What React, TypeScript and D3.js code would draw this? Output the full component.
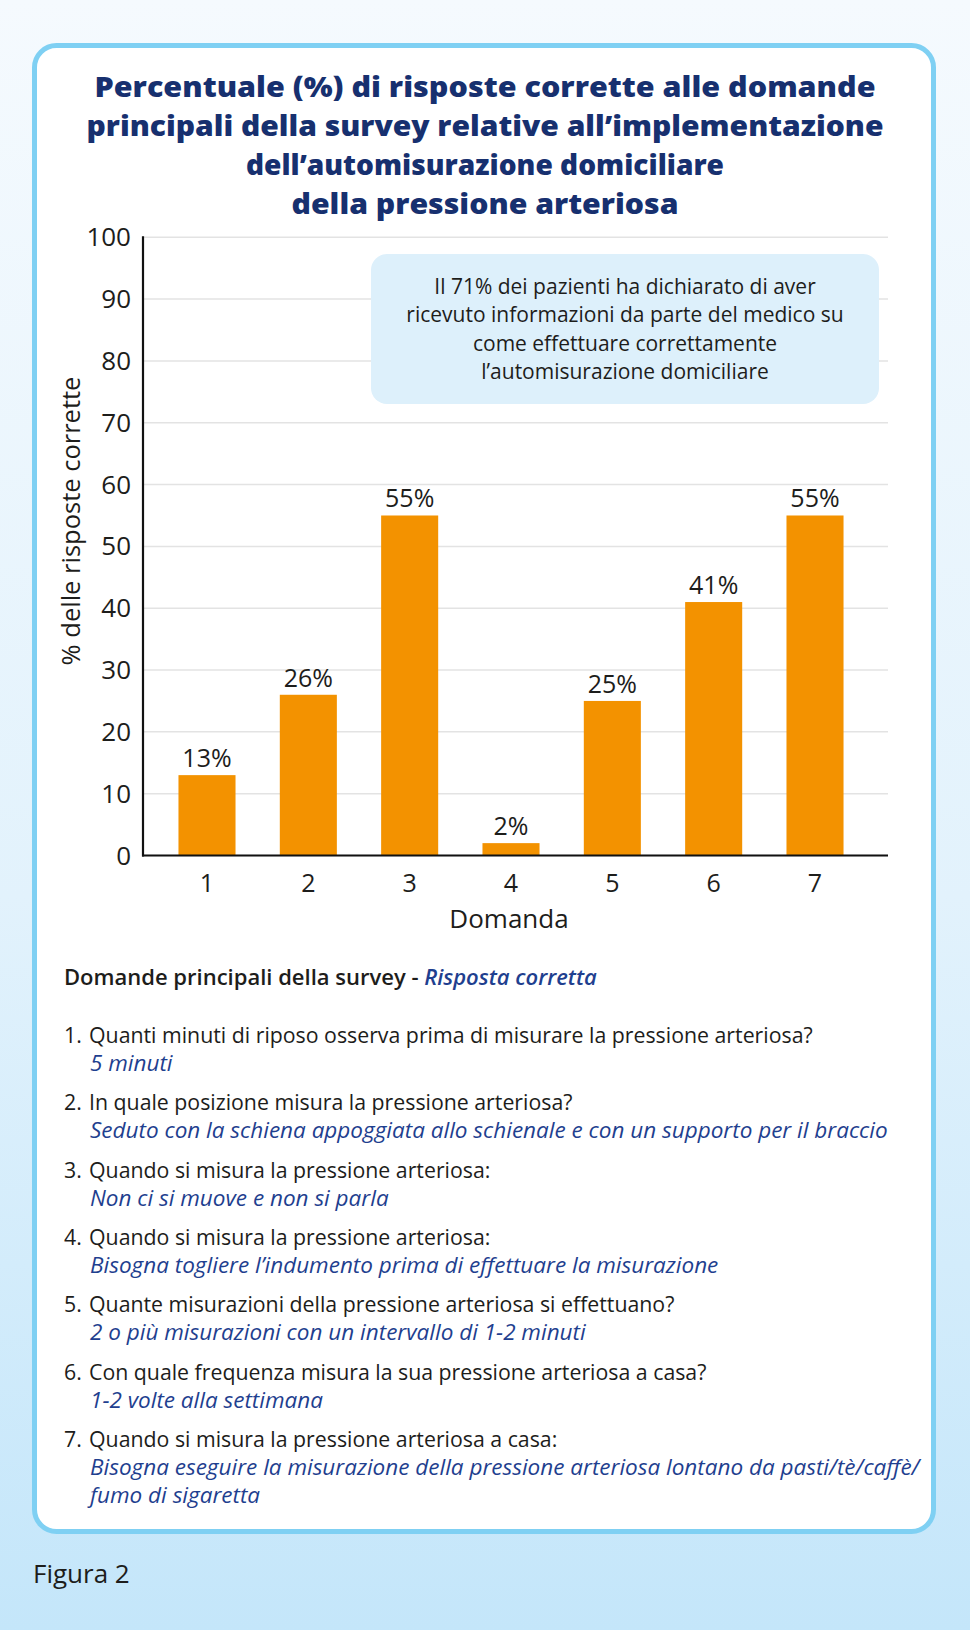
import React from 'react';
import * as d3 from 'd3';

const questions = ['1', '2', '3', '4', '5', '6', '7'];
const correctPct = [13, 26, 55, 2, 25, 41, 55];
const yTickValues = [0, 10, 20, 30, 40, 50, 60, 70, 80, 90, 100];

const titleLines = [
  'Percentuale (%) di risposte corrette alle domande',
  'principali della survey relative all\u2019implementazione',
  'dell\u2019automisurazione domiciliare',
  'della pressione arteriosa',
];
const titleWidths = [781, 797, 478, 387];

const noteLines = [
  'Il 71% dei pazienti ha dichiarato di aver',
  'ricevuto informazioni da parte del medico su',
  'come effettuare correttamente',
  'l\u2019automisurazione domiciliare',
];

const yAxisLabel = '% delle risposte corrette';
const xAxisLabel = 'Domanda';
const legendHeading = 'Domande principali della survey - ';
const legendHeadingAnswer = 'Risposta corretta';
const figureLabel = 'Figura 2';

const questionTexts = [
  'Quanti minuti di riposo osserva prima di misurare la pressione arteriosa?',
  'In quale posizione misura la pressione arteriosa?',
  'Quando si misura la pressione arteriosa:',
  'Quando si misura la pressione arteriosa:',
  'Quante misurazioni della pressione arteriosa si effettuano?',
  'Con quale frequenza misura la sua pressione arteriosa a casa?',
  'Quando si misura la pressione arteriosa a casa:',
];

const answerTexts = [
  ['5 minuti'],
  ['Seduto con la schiena appoggiata allo schienale e con un supporto per il braccio'],
  ['Non ci si muove e non si parla'],
  ['Bisogna togliere l\u2019indumento prima di effettuare la misurazione'],
  ['2 o pi\u00f9 misurazioni con un intervallo di 1-2 minuti'],
  ['1-2 volte alla settimana'],
  ['Bisogna eseguire la misurazione della pressione arteriosa lontano da pasti/t\u00e8/caff\u00e8/', 'fumo di sigaretta'],
];

const FONT = '"Open Sans", Lato, sans-serif';
const INK = '#1d1d1b';
const NAVY = '#17306f';
const ANSWER = '#1f3f8f';
const ORANGE = '#f39200';

export default function App() {
  const W = 970;
  const H = 1630;
  const plotLeft = 143;
  const plotRight = 888;
  const x = d3
    .scaleBand<string>()
    .domain(questions)
    .range([143, 879])
    .paddingInner(0.437)
    .paddingOuter(0.35);
  const y = d3.scaleLinear().domain([0, 100]).range([855.5, 237.3]);

  const itemStart = 1043;
  const itemGap = 67.3;
  const lineH = 28;

  return (
    <svg
      width={W}
      height={H}
      viewBox={`0 0 ${W} ${H}`}
      style={{ position: 'absolute', left: 0, top: 0, fontFamily: FONT }}
    >
      <defs>
        <linearGradient id="bg" x1="0" y1="0" x2="0" y2="1">
          <stop offset="0" stopColor="#f5fafe" />
          <stop offset="0.55" stopColor="#e2f2fc" />
          <stop offset="1" stopColor="#c4e6fa" />
        </linearGradient>
      </defs>
      <rect x={0} y={0} width={W} height={H} fill="url(#bg)" />
      <rect
        x={34.5}
        y={45.5}
        width={899}
        height={1486}
        rx={22}
        ry={22}
        fill="#ffffff"
        stroke="#7fd0f3"
        strokeWidth={5}
      />

      {/* Title */}
      {titleLines.map((t, i) => (
        <text
          key={i}
          x={485}
          y={97 + i * 39}
          textAnchor="middle"
          fontSize={28}
          fontWeight={800}
          fill={NAVY}
          textLength={titleWidths[i]}
          lengthAdjust="spacingAndGlyphs"
        >
          {t}
        </text>
      ))}

      {/* Gridlines */}
      {yTickValues.map((v) => (
        <line
          key={'g' + v}
          x1={plotLeft}
          x2={plotRight}
          y1={y(v)}
          y2={y(v)}
          stroke="#e3e3e3"
          strokeWidth={1.5}
        />
      ))}

      {/* Note box */}
      <rect x={371} y={254} width={508} height={150} rx={16} ry={16} fill="#ddf0fb" />
      {noteLines.map((t, i) => (
        <text
          key={'n' + i}
          x={625}
          y={294 + i * 28.3}
          textAnchor="middle"
          fontSize={21}
          fill={INK}
        >
          {t}
        </text>
      ))}

      {/* Bars */}
      {questions.map((q, i) => (
        <g key={'b' + q}>
          <rect
            x={x(q)}
            y={y(correctPct[i])}
            width={x.bandwidth()}
            height={y(0) - y(correctPct[i])}
            fill={ORANGE}
          />
          <text
            x={(x(q) as number) + x.bandwidth() / 2}
            y={y(correctPct[i]) - 8}
            textAnchor="middle"
            fontSize={25}
            fill={INK}
          >
            {correctPct[i]}%
          </text>
          <text
            x={(x(q) as number) + x.bandwidth() / 2}
            y={892}
            textAnchor="middle"
            fontSize={25}
            fill={INK}
          >
            {q}
          </text>
        </g>
      ))}

      {/* Axes */}
      <line x1={143} x2={143} y1={y(100) - 1} y2={y(0) + 1} stroke="#111" strokeWidth={2.2} />
      <line x1={142} x2={plotRight} y1={y(0)} y2={y(0)} stroke="#111" strokeWidth={2.2} />
      {yTickValues.map((v) => (
        <text
          key={'t' + v}
          x={131}
          y={y(v) + 9}
          textAnchor="end"
          fontSize={26}
          fill={INK}
        >
          {v}
        </text>
      ))}
      <text
        transform={`translate(80, 521) rotate(-90)`}
        textAnchor="middle"
        fontSize={25.5}
        fill={INK}
      >
        {yAxisLabel}
      </text>
      <text x={509} y={928} textAnchor="middle" fontSize={26} fill={INK}>
        {xAxisLabel}
      </text>

      {/* Legend */}
      <text x={64} y={985} fontSize={22} fontWeight={600} fill={INK}>
        {legendHeading}
        <tspan fill={ANSWER} fontStyle="italic">
          {legendHeadingAnswer}
        </tspan>
      </text>
      {questionTexts.map((qt, i) => {
        const base = itemStart + i * itemGap;
        return (
          <g key={'q' + i}>
            <text x={64} y={base} fontSize={21.3} fill={INK}>
              {i + 1}.
            </text>
            <text x={89} y={base} fontSize={21.3} fill={INK}>
              {qt}
            </text>
            {answerTexts[i].map((a, j) => (
              <text
                key={j}
                x={90}
                y={base + lineH * (j + 1)}
                fontSize={22.5}
                fontStyle="italic"
                fill={ANSWER}
              >
                {a}
              </text>
            ))}
          </g>
        );
      })}

      <text x={33} y={1583} fontSize={26} fill={INK}>
        {figureLabel}
      </text>
    </svg>
  );
}
